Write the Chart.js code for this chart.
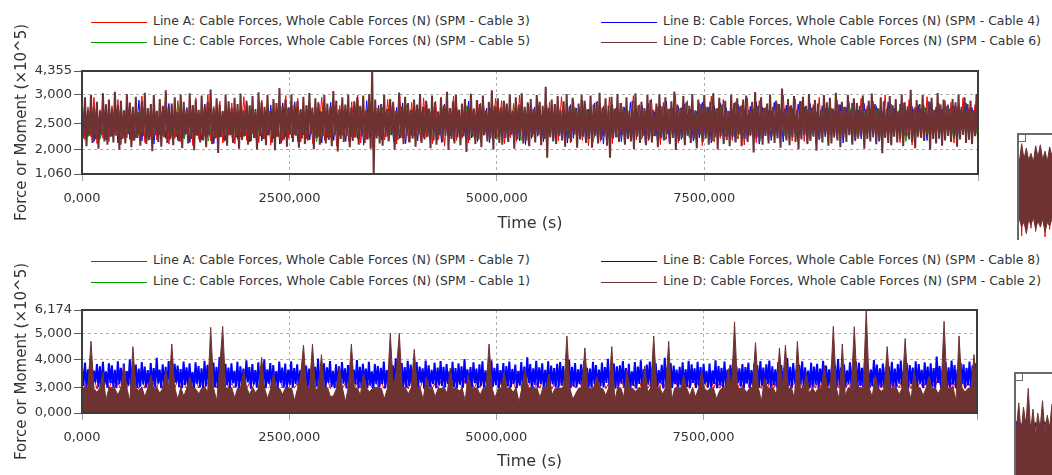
<!DOCTYPE html>
<html>
<head>
<meta charset="utf-8">
<script src="https://cdn.jsdelivr.net/npm/chart.js@4.4.1/dist/chart.umd.min.js"></script>
<style>
  html, body { margin: 0; padding: 0; background: #fff; }
  body { width: 1052px; height: 475px; overflow: hidden; position: relative; font-family: 'DejaVu Sans', sans-serif; }
  canvas { position: absolute; }
  .lg-text { position: absolute; font-size: 12.4px; line-height: 15px; color: #333; white-space: nowrap; }
  .lg-line { position: absolute; height: 1px; width: 56px; }
</style>
</head>
<body>
<div id="legends"></div>
<canvas id="cablesUpper" width="1000" height="240" style="left:0;top:0"></canvas>
<canvas id="cablesLower" width="1000" height="235" style="left:0;top:240px"></canvas>
<canvas id="detailUpper" width="38" height="109" style="left:1014px;top:131px"></canvas>
<canvas id="detailLower" width="40" height="105" style="left:1012px;top:370px"></canvas>
<script>
// ---- Simulation time axis (s) ----
const TIME_MAX = 10800;
const timeTicks = [0, 2500, 5000, 7500, 10800];

// ---- Force axis tick values (x10^5 N) and their relative heights on each plot ----
const upperTickValues = [1.060, 2.000, 2.500, 3.000, 4.355];
const upperTickHeights = [0, 0.240, 0.492, 0.767, 1];
const lowerTickValues = [0.000, 3.000, 4.000, 5.000, 6.174];
const lowerTickHeights = [0, 0.250, 0.515, 0.774, 1];

// ---- Legend texts ----
const upperLegend = [
  'Line A: Cable Forces, Whole Cable Forces (N) (SPM - Cable 3)',
  'Line B: Cable Forces, Whole Cable Forces (N) (SPM - Cable 4)',
  'Line C: Cable Forces, Whole Cable Forces (N) (SPM - Cable 5)',
  'Line D: Cable Forces, Whole Cable Forces (N) (SPM - Cable 6)'
];
const lowerLegend = [
  'Line A: Cable Forces, Whole Cable Forces (N) (SPM - Cable 7)',
  'Line B: Cable Forces, Whole Cable Forces (N) (SPM - Cable 8)',
  'Line C: Cable Forces, Whole Cable Forces (N) (SPM - Cable 1)',
  'Line D: Cable Forces, Whole Cable Forces (N) (SPM - Cable 2)'
];
const lineColors = ['#ff0000', '#0000ff', '#00a000', '#6e3232'];

// ---- Upper plot: cable forces in kN (decimated records) ----
// Cable 6: max / min per time bin
const cable6MaxKN = [
282,296,274,301,279,288,271,309,283,292, 276,318,281,290,273,305,286,279,297,270,
289,312,277,284,300,272,293,281,327,278, 285,296,270,303,288,275,310,282,291,274,
299,280,287,331,276,294,283,271,302,289, 277,295,284,308,273,290,281,298,275,316,
287,279,301,272,293,286,340,281,292,276, 304,283,289,274,297,282,311,278,294,287,
271,300,285,279,322,290,275,296,283,302, 278,289,296,281,299,273,306,435,292,277,
284,301,275,293,288,272,314,280,297,286, 274,292,283,305,279,290,276,299,287,271,
296,282,318,277,289,301,274,285,293,280, 307,276,291,284,299,273,288,326,281,294,
278,290,285,302,272,296,283,310,279,287, 293,275,300,288,281,347,277,292,284,298,
273,289,306,280,295,276,285,301,290,274, 299,283,288,312,278,294,281,297,275,305,
286,279,296,272,290,309,282,288,277,300, 291,274,285,303,280,296,275,289,320,283,
277,298,287,281,305,273,292,284,300,279, 288,310,276,295,283,290,272,301,286,294,
280,292,299,274,288,317,281,296,277,285, 302,279,290,284,336,276,293,282,298,273,
289,297,281,306,278,291,285,274,300,287, 295,276,312,283,288,279,301,273,294,286,
281,299,275,290,308,284,277,296,289,275, 298,282,293,271,304,287,280,329,276,291,
284,300,278,289,295,274,311,283,292,280, 276,293,287,302,279,296,284,290,273,306
];
const cable6MinKN = [
221,206,226,212,219,201,228,215,209,224, 213,226,198,220,211,229,204,217,222,207,
225,210,218,193,227,214,205,223,212,219, 208,224,215,202,229,211,220,196,226,213,
217,204,228,210,221,186,224,215,207,227, 212,223,201,218,226,209,216,222,199,225,
220,208,227,213,196,224,211,219,205,228, 214,226,203,221,210,217,229,200,222,209,
225,211,218,206,227,192,220,214,226,204, 216,223,209,225,212,219,201,106,221,211,
207,224,215,227,198,218,222,210,226,213, 221,205,228,212,219,224,202,217,209,227,
214,226,197,220,211,223,208,225,190,218, 226,210,219,204,227,215,221,199,224,212,
209,222,214,228,201,219,225,211,217,206, 224,213,227,208,220,168,223,215,210,226,
217,205,222,214,228,203,219,224,212,220, 203,226,211,218,225,207,168,221,223,214,
227,209,220,215,200,224,212,226,208,219, 213,225,204,221,217,229,210,222,197,216,
222,208,226,212,219,202,227,214,221,209, 215,223,199,225,210,218,206,224,213,228,
206,220,214,227,188,222,215,209,226,211, 224,212,221,203,226,217,208,223,214,200,
219,227,210,216,224,195,221,213,228,207, 211,225,217,204,222,214,227,209,219,224,
226,201,220,215,227,210,218,185,223,212, 208,224,213,221,206,226,219,214,202,225,
222,216,227,198,220,211,224,207,217,226, 214,223,205,219,228,212,221,210,225,218
];
// Cable 3
const cable3KN = [
288,218,279,224,296,211,274,221,284,215, 281,227,292,209,272,222,287,216,277,228,
298,213,276,223,286,218,271,226,301,210, 278,221,290,214,274,229,283,207,295,219,
273,225,303,216,280,222,289,212,276,227, 286,210,275,223,297,217,282,230,270,213,
291,220,277,208,287,224,273,216,299,221, 280,228,294,214,271,220,286,211,278,225,
296,217,274,222,290,206,282,227,276,215, 288,223,300,212,275,219,285,204,279,226,
273,218,292,229,281,210,302,221,277,214, 287,225,276,216,295,223,271,211,289,219,
283,206,278,226,298,217,274,222,286,212, 277,220,291,214,282,228,270,218,294,224,
290,211,279,222,285,215,300,225,275,209, 280,227,294,219,272,213,288,223,283,216,
297,221,276,212,291,226,278,217,285,207, 274,223,289,215,281,220,296,211,277,229,
286,213,275,224,299,218,283,222,272,216, 293,226,279,209,287,220,276,228,302,212,
278,219,290,223,273,215,286,207,280,224, 298,214,277,221,292,227,271,217,288,220,
282,208,295,225,276,213,290,222,278,218, 272,229,285,212,300,220,280,216,293,224,
289,215,274,226,283,210,296,221,277,214, 277,222,291,218,279,228,287,212,273,220,
294,211,281,223,289,216,275,227,301,219, 284,225,271,213,286,221,292,208,279,223,
276,217,297,229,274,220,285,214,290,226, 287,212,280,222,295,218,277,224,283,215
];
// Cable 4
const cable4KN = [
220,278,226,284,215,272,223,288,218,276, 225,281,212,270,227,286,219,274,222,291,
216,277,224,283,210,271,228,280,221,285, 226,273,217,289,222,278,213,282,227,268,
218,284,224,276,211,287,223,272,217,281, 229,279,219,268,225,285,214,277,222,290,
216,274,227,282,221,270,210,286,224,278, 222,288,215,275,228,281,218,269,226,284,
212,276,223,287,217,273,227,280,215,271, 224,285,220,277,208,290,222,274,230,282,
218,269,226,283,214,278,221,286,211,275, 227,281,216,272,223,288,219,279,225,268,
213,284,228,276,217,280,224,270,220,289, 222,273,215,285,227,277,212,283,221,278,
228,287,219,271,224,281,216,276,209,284, 221,279,225,268,215,286,227,274,218,282,
223,272,212,283,221,277,226,290,217,275, 227,286,220,280,210,273,224,284,229,270,
215,278,222,287,219,274,228,281,213,285, 225,270,217,282,223,289,214,276,221,280,
219,284,227,275,216,271,222,287,225,278, 212,281,224,286,220,277,226,269,215,283,
228,274,218,280,222,288,210,279,226,272, 217,287,225,273,214,282,221,276,229,284,
223,279,213,285,227,270,218,281,224,277, 226,272,221,283,212,278,228,286,216,274,
220,285,227,276,223,281,215,271,222,288, 214,277,224,284,219,273,229,280,211,282,
227,270,217,287,225,279,220,275,223,283, 222,281,213,274,228,286,218,278,226,272
];
// Cable 5
const cable5KN = [
268,224,276,219,263,229,281,221,272,226, 279,217,270,231,274,222,283,220,267,228,
277,216,272,230,280,221,265,225,278,218, 269,232,275,219,282,223,266,227,276,215,
273,221,279,229,264,220,281,225,270,231, 278,218,267,224,283,221,274,230,269,216,
276,227,271,220,280,223,265,232,277,219, 272,225,279,217,268,228,282,222,273,230,
267,221,278,226,275,215,270,229,281,223, 274,231,266,219,279,226,272,218,277,227,
280,222,269,230,276,216,283,225,268,220, 271,228,281,221,265,227,278,223,274,217,
277,219,272,232,280,224,267,229,282,221, 269,226,276,218,273,230,279,215,266,225,
282,223,270,228,277,220,274,231,271,222
];

// ---- Lower plot: cable forces in kN ----
// Cable 2
const cable2KN = [
295,288,302,470,286,240,297,355,150,291, 299,283,210,294,380,289,135,450,287,262,
301,186,293,345,279,298,230,290,365,288, 460,292,160,300,195,287,338,296,281,225,
289,297,250,530,285,140,372,535,290,283, 298,175,291,286,360,295,215,299,236,290,
410,287,170,281,350,293,288,215,297,285, 292,145,283,342,455,289,296,460,268,294,
420,286,298,190,200,284,375,293,130,299, 460,282,295,205,352,297,245,286,300,291,
288,165,283,500,292,360,500,287,298,222, 294,440,289,285,155,338,281,296,190,290,
286,299,225,370,284,297,255,291,140,345, 298,283,294,210,289,301,460,286,175,282,
291,355,287,296,240,293,125,300,365,288, 297,285,292,180,299,286,348,210,283,295,
289,300,490,284,160,230,291,287,445,293, 286,298,340,290,283,205,296,450,150,299,
292,184,362,295,288,250,297,283,378,235, 296,490,287,293,220,298,470,145,291,300,
288,344,294,200,297,185,290,358,286,255, 299,282,165,260,296,287,368,293,558,284,
290,297,240,286,299,465,288,135,335,283, 296,289,210,445,292,455,286,298,170,470,
287,294,352,225,300,235,291,288,380,296, 285,535,293,150,460,199,297,286,533,292,
299,284,617,291,187,345,296,250,289,450, 293,286,300,215,290,480,284,160,362,288,
296,205,291,340,287,298,225,292,560,285, 290,299,140,490,294,245,288,297,420,292
];
// Cable 8: max / min per time bin
const cable8MaxKN = [
372,390,366,398,361,385,377,393,358,388, 380,364,395,371,387,359,402,374,383,368,
392,376,363,389,370,408,365,384,375,396, 361,386,379,367,394,373,388,356,391,378,
369,397,382,364,390,375,411,366,386,372, 388,360,393,377,368,399,374,385,363,391,
376,402,366,389,381,359,394,372,387,365, 395,370,384,362,398,379,368,391,375,405,
367,388,373,396,360,384,377,392,369,381, 390,364,400,375,386,368,393,358,385,378,
371,394,363,387,380,406,366,389,374,397, 383,361,392,376,369,398,380,364,390,372,
396,375,385,359,393,370,388,377,403,366, 374,391,368,384,395,362,381,399,371,387,
363,389,378,394,367,383,360,392,376,410, 385,369,397,373,388,364,395,379,370,386,
392,378,362,400,375,389,366,384,396,371, 368,393,381,365,390,374,404,361,387,377,
380,396,370,386,358,392,376,399,367,383, 394,373,388,363,382,408,372,389,379,365,
375,391,366,397,384,369,393,374,386,360, 387,362,399,378,371,394,365,382,401,376,
369,385,374,390,363,388,380,396,372,384, 398,377,366,392,381,370,407,375,389,364,
382,395,373,361,390,376,386,368,397,379, 366,388,380,403,372,384,362,391,378,394,
390,371,396,379,365,400,383,369,387,374, 377,393,368,385,398,362,389,381,372,395,
385,364,391,376,388,370,413,378,367,392, 373,398,381,366,390,384,371,394,379,388
];
const cable8MinKN = [
305,296,312,291,318,299,286,309,294,315, 300,289,311,297,283,306,293,316,288,302,
310,295,284,308,299,314,290,303,287,312, 296,317,301,288,309,293,305,282,313,298,
289,304,315,295,300,286,311,297,308,292, 314,299,287,306,293,318,284,310,296,303,
301,290,313,297,305,288,316,294,281,309, 295,311,300,287,312,298,291,307,302,285,
308,293,316,301,289,304,296,313,286,300, 297,310,287,303,315,292,306,280,311,299,
312,288,302,296,309,285,314,298,291,305, 290,307,294,317,283,303,299,311,288,308,
304,297,312,286,301,293,309,295,314,284, 299,315,290,305,296,311,287,302,308,293,
310,284,303,298,313,291,306,289,300,316, 287,309,296,312,292,304,283,310,298,301,
306,293,315,288,302,297,311,285,307,294, 295,311,286,304,299,316,290,308,282,303,
313,298,307,291,305,287,312,296,301,309, 289,303,294,314,285,306,299,293,311,297,
308,286,301,297,316,292,304,289,313,300, 296,312,289,307,294,303,285,310,298,315,
302,291,314,286,309,300,293,306,288,311, 294,307,299,283,313,296,305,290,316,301,
311,288,304,298,292,309,286,314,297,303, 299,314,291,306,287,302,312,295,308,284,
305,296,310,289,303,315,292,301,286,309, 288,302,297,313,291,306,284,311,300,295,
314,293,308,287,301,298,316,290,305,299, 296,309,285,303,312,294,307,288,302,310
];
// Cable 7
const cable7KN = [
330,284,318,291,336,279,322,288,341,282, 325,293,315,280,333,287,320,294,312,283,
338,289,327,278,316,292,335,285,323,290, 319,281,331,295,314,286,339,280,326,292,
334,287,317,283,329,294,321,279,337,288, 313,291,336,284,324,281,318,293,332,286,
327,280,340,289,315,285,330,292,319,283, 322,294,313,287,335,279,326,291,338,284,
316,288,329,282,321,293,334,286,314,281, 339,285,320,290,328,283,317,295,331,287,
318,282,333,288,325,291,312,284,336,279, 330,292,319,285,337,280,323,289,315,294,
324,286,338,281,316,290,332,283,327,288, 335,279,321,293,329,287,314,282,340,291,
317,290,334,284,320,281,339,286,325,293, 332,283,315,289,336,285,322,280,318,292,
326,288,340,282,313,294,331,287,323,284, 319,281,328,291,337,283,316,290,334,286,
338,293,322,285,319,288,333,281,327,289, 314,284,336,290,324,282,317,292,339,285,
329,287,318,283,335,291,325,280,316,294, 337,282,323,288,314,286,340,293,321,281,
320,291,331,284,327,289,315,283,336,287, 333,285,316,292,338,280,324,290,318,286,
315,288,339,281,322,293,330,284,326,291, 328,283,320,287,334,285,313,294,337,282,
321,292,335,286,317,281,329,289,323,284, 336,280,314,293,331,287,320,282,339,290,
318,289,327,284,316,291,338,285,325,283, 331,286,322,290,335,282,319,288,328,293
];
// Cable 1
const cable1KN = [
90,35,102,20,80,45,108,28,95,40, 75,22,100,38,86,14,105,30,92,43,
98,26,83,41,107,19,89,34,101,24, 79,37,104,16,93,45,87,29,106,21,
96,33,81,42,103,18,90,36,99,27, 84,40,108,23,94,31,77,44,102,15,
91,29,105,37,82,20,97,43,88,26, 107,34,78,18,100,39,93,25,85,41,
95,22,103,36,89,45,76,30,104,17, 86,38,99,24,108,33,81,42,94,20,
102,27,87,40,96,16,105,35,80,44, 93,31,109,23,84,38,98,19,106,29
];

// ---- Detail panels (cut off at the right edge) ----
const detailUpperMaxKN = [318,296,330,301,322,299,312,295,326,305,328,300,316,297,324,306];
const detailUpperMinKN = [168,190,175,184,162,188,178,192,170,186,174,189,165,183,176,190];
const detailUpperRedKN = [175,300,158,305,181,290,172,300,166,295,180,298,156,290,170,300];
const detailLowerBrown = [62,44,70,40,66,48,84,42,64,38,60,45,72,41,58,46,69];
const detailLowerBlue = [40,52,36,50,30,54,42,49,33,51,28,50,38,52,44,48,35];

Chart.defaults.font.family = "'DejaVu Sans', sans-serif";
Chart.defaults.color = '#333';

// piecewise-linear placement of force values on the plot height
function forceAxis(values, heights) {
  return v => {
    if (v <= values[0]) return heights[0];
    for (let i = 1; i < values.length; i++) {
      if (v <= values[i]) {
        const t = (v - values[i - 1]) / (values[i] - values[i - 1]);
        return heights[i - 1] + t * (heights[i] - heights[i - 1]);
      }
    }
    return heights[heights.length - 1];
  };
}
const comma = v => v.toFixed(3).replace('.', ',');

// evenly sampled record over the simulation time
function timeSeries(kn, place) {
  const n = kn.length;
  return kn.map((v, i) => ({ x: i * TIME_MAX / (n - 1), y: place(v / 100) }));
}
// decimated record: the max and min of each time bin, in time order
function binSeries(maxKN, minKN, place) {
  const n = maxKN.length, dt = TIME_MAX / (n - 0.5), out = [];
  for (let i = 0; i < n; i++) {
    out.push({ x: i * dt, y: place(maxKN[i] / 100) });
    out.push({ x: (i + 0.5) * dt, y: place(minKN[i] / 100) });
  }
  return out;
}

function lineSet(data, color, extra) {
  return Object.assign({
    data, borderColor: color, backgroundColor: color, borderWidth: 1,
    borderJoinStyle: 'bevel', pointRadius: 0, tension: 0, fill: false
  }, extra || {});
}
// dense records: every vertex is stroked exactly (one long dash keeps the full path)
const densePath = { borderWidth: 2, borderDash: [1000000, 1] };

const framePlugin = {
  id: 'frame',
  afterDatasetsDraw(chart, args, opts) {
    const { ctx, chartArea: a } = chart;
    ctx.save();
    ctx.strokeStyle = opts.color;
    ctx.lineWidth = opts.width;
    if (opts.partial) {
      ctx.beginPath();
      ctx.moveTo(a.left + 1, a.bottom + 5);
      ctx.lineTo(a.left + 1, a.top + 1);
      ctx.lineTo(a.right + 5, a.top + 1);
      ctx.stroke();
      ctx.fillStyle = '#fff';
      ctx.fillRect(a.left + 1, a.top + 1, 8, 8);
      ctx.lineWidth = 1;
      ctx.strokeRect(a.left + 1.5, a.top + 1.5, 7, 7);
    } else {
      ctx.strokeRect(a.left, a.top, a.right - a.left, a.bottom - a.top);
    }
    ctx.restore();
  }
};

function cableChart(id, cfg) {
  const { values, heights, datasets, padTop, padRight, axisHeight, titleGap } = cfg;
  return new Chart(document.getElementById(id), {
    type: 'line',
    data: { datasets },
    plugins: [framePlugin],
    options: {
      responsive: false, animation: false, devicePixelRatio: 1,
      layout: { padding: { top: padTop, right: padRight, left: 0, bottom: 0 } },
      plugins: {
        legend: { display: false }, tooltip: { enabled: false },
        frame: { color: '#3c3c3c', width: 2 }
      },
      scales: {
        x: {
          type: 'linear', min: 0, max: TIME_MAX,
          afterBuildTicks: s => { s.ticks = timeTicks.map(v => ({ value: v })); },
          afterFit: s => { s.height = axisHeight; },
          ticks: {
            callback: v => (v === TIME_MAX ? '' : comma(v)),
            font: { size: 13 }, color: '#333', padding: 10, maxRotation: 0, autoSkip: false
          },
          grid: { color: '#b0b0b0', tickColor: '#a0a0a0', tickLength: 7, tickBorderDash: [] },
          border: { display: false, dash: [3, 3] },
          title: { display: true, text: 'Time (s)', font: { size: 16 }, color: '#333', padding: { top: 0, bottom: titleGap } }
        },
        y: {
          type: 'linear', min: 0, max: 1,
          afterBuildTicks: s => { s.ticks = heights.map(h => ({ value: h })); },
          afterFit: s => { s.width = 82; },
          ticks: {
            callback: v => comma(values[heights.indexOf(v)]),
            font: { size: 13 }, color: '#333', padding: 2, autoSkip: false
          },
          grid: { color: '#b0b0b0', tickColor: '#555', tickLength: 8, tickBorderDash: [] },
          border: { display: false, dash: [3, 3] },
          title: { display: true, text: 'Force or Moment (×10^5)', font: { size: 15 }, color: '#333', padding: { top: 13, bottom: 0 } }
        }
      }
    }
  });
}

const brown = lineColors[3], red = lineColors[0], blue = lineColors[1], green = lineColors[2];
const upperPlace = forceAxis(upperTickValues, upperTickHeights);
const lowerPlace = forceAxis(lowerTickValues, lowerTickHeights);

// First dataset is drawn on top
cableChart('cablesUpper', {
  values: upperTickValues, heights: upperTickHeights,
  padTop: 71, padRight: 22, axisHeight: 66, titleGap: 7,
  datasets: [
    lineSet(binSeries(cable6MaxKN, cable6MinKN, upperPlace), brown, densePath),
    lineSet(timeSeries(cable5KN, upperPlace), green),
    lineSet(timeSeries(cable4KN, upperPlace), blue),
    lineSet(timeSeries(cable3KN, upperPlace), red)
  ]
});

cableChart('cablesLower', {
  values: lowerTickValues, heights: lowerTickHeights,
  padTop: 70, padRight: 23, axisHeight: 62, titleGap: 4,
  datasets: [
    lineSet(timeSeries(cable2KN, lowerPlace), brown, { fill: 'start' }),
    lineSet(timeSeries(cable1KN, lowerPlace), green),
    lineSet(binSeries(cable8MaxKN, cable8MinKN, lowerPlace), blue, densePath),
    lineSet(timeSeries(cable7KN, lowerPlace), red)
  ]
});

function detailChart(id, pad, yMin, yMax, datasets) {
  return new Chart(document.getElementById(id), {
    type: 'line',
    data: { datasets },
    plugins: [framePlugin],
    options: {
      responsive: false, animation: false, devicePixelRatio: 1,
      layout: { padding: { left: pad.left, top: pad.top, right: 0, bottom: 0 } },
      plugins: { legend: { display: false }, tooltip: { enabled: false }, frame: { color: '#6a6a6a', width: 2, partial: true } },
      scales: {
        x: { type: 'linear', display: false, min: 0, max: datasets[0].data.length - 1 },
        y: { type: 'linear', display: false, min: yMin, max: yMax }
      }
    }
  });
}
const indexed = arr => arr.map((v, i) => ({ x: i, y: v }));

detailChart('detailUpper', { left: 3, top: 2 }, 150, 350, [
  lineSet(indexed(detailUpperMaxKN), brown, { fill: '+1' }),
  lineSet(indexed(detailUpperMinKN), brown),
  lineSet(indexed(detailUpperRedKN), red)
]);
detailChart('detailLower', { left: 2, top: 2 }, 0, 100, [
  lineSet(indexed(detailLowerBrown), brown, { fill: 'start' }),
  lineSet(indexed(detailLowerBlue), blue)
]);

// ---- Legends (two columns, two rows per plot) ----
function buildLegend(texts, rowLines) {
  const host = document.getElementById('legends');
  const cols = [{ line: 91, text: 153 }, { line: 601, text: 663 }];
  texts.forEach((t, i) => {
    const col = cols[i % 2], y = rowLines[Math.floor(i / 2)];
    const ln = document.createElement('div');
    ln.className = 'lg-line';
    ln.style.left = col.line + 'px'; ln.style.top = y + 'px';
    ln.style.background = lineColors[i];
    const tx = document.createElement('div');
    tx.className = 'lg-text';
    tx.style.left = col.text + 'px'; tx.style.top = (y - 9) + 'px';
    tx.textContent = t;
    host.appendChild(ln); host.appendChild(tx);
  });
}
buildLegend(upperLegend, [22, 42]);
buildLegend(lowerLegend, [261, 282]);
</script>
</body>
</html>
